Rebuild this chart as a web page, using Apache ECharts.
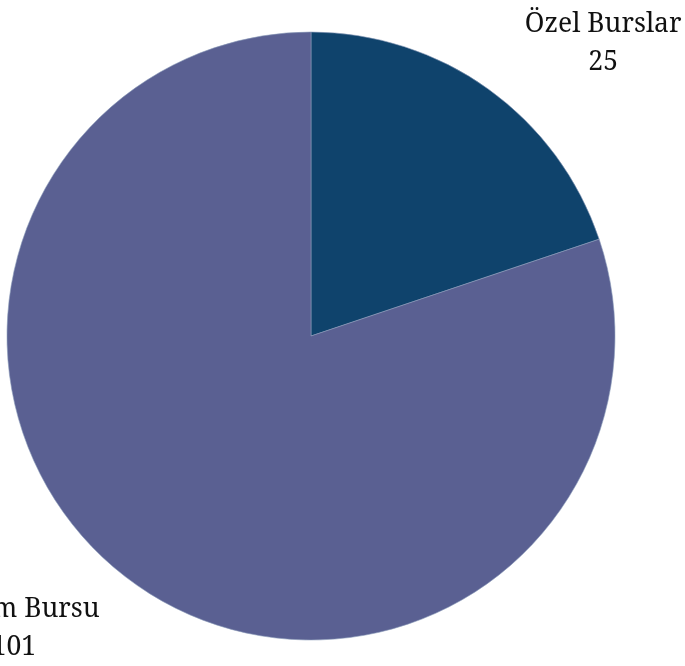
<!DOCTYPE html>
<html>
<head>
<meta charset="utf-8">
<script src="https://cdn.jsdelivr.net/npm/echarts@6/dist/echarts.min.js"></script>
<style>
  html, body { margin: 0; padding: 0; background: #fff; }
  #chart { width: 685px; height: 666px; }
</style>
</head>
<body>
<div id="chart"></div>
<script>
// 数据
const categories = ["Özel Burslar", "Kurum Bursu"];
const values = [25, 101];
const colors = ["#0f436c", "#5a6092"];
const labelWidths = [150, 160];

const chart = echarts.init(document.getElementById("chart"));

const textStyle = {
  align: "center",
  fontFamily: "'Noto Serif', 'DejaVu Serif', serif",
  fontSize: 26.5,
  lineHeight: 38,
  color: "#111",
};

const options = {
  animation: false,
  series: [
    {
      type: "pie",
      center: [311, 336],
      radius: 304,
      startAngle: 90,
      clockwise: true,
      avoidLabelOverlap: false,
      itemStyle: {
        borderColor: "#8a9ab8",
        borderWidth: 0.6,
      },
      label: {
        show: true,
        position: "outside",
        formatter: "{t|{b}}\n{t|{c}}",
      },
      labelLine: {
        show: false,
        length: 56,
        length2: 2,
      },
      data: categories.map((name, i) => ({
        name,
        value: values[i],
        itemStyle: { color: colors[i] },
        label: {
          rich: { t: Object.assign({ width: labelWidths[i] }, textStyle) },
        },
      })),
    },
  ],
};

chart.setOption(options);
</script>
</body>
</html>
